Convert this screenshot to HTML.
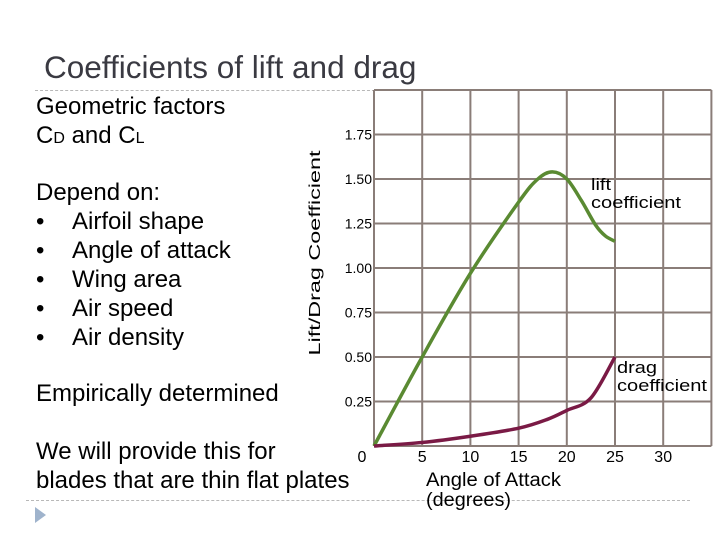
<!DOCTYPE html>
<html><head><meta charset="utf-8"><style>
body{margin:0;width:720px;height:540px;background:#fff;overflow:hidden;font-family:"Liberation Sans",sans-serif;}
.t{position:absolute;color:#000;white-space:nowrap;}
.b{display:inline-block;width:36px;}
</style></head><body>
<div style="position:relative;width:720px;height:540px;">
<div class="t" style="left:44px;top:49px;font-size:31.5px;color:#3a3a42;">Coefficients of lift and drag</div>
<div style="position:absolute;left:35px;top:90px;width:340px;border-top:1px dashed #b8b8b8;"></div>
<div class="t" style="left:36px;top:92px;font-size:24px;line-height:29px;">Geometric factors<br>C<span style="font-size:16px">D</span> and C<span style="font-size:16px">L</span></div>
<div class="t" style="left:36px;top:178px;font-size:24px;line-height:29px;">Depend on:<br><span class="b">•</span>Airfoil shape<br><span class="b">•</span>Angle of attack<br><span class="b">•</span>Wing area<br><span class="b">•</span>Air speed<br><span class="b">•</span>Air density</div>
<div class="t" style="left:36px;top:380px;font-size:24px;">Empirically determined</div>
<div class="t" style="left:36px;top:437px;font-size:24px;line-height:29px;">We will provide this for<br>blades that are thin flat plates</div>
<div style="position:absolute;left:26px;top:500px;width:664px;border-top:1px dashed #b8b8b8;"></div>
<div style="position:absolute;left:35px;top:507px;width:0;height:0;border-top:8px solid transparent;border-bottom:8px solid transparent;border-left:11px solid #9fb3cc;"></div>
<svg id="chart" width="720" height="540" style="position:absolute;left:0;top:0;" xmlns="http://www.w3.org/2000/svg"></svg>
</div>
<script>
const xTicks=[5,10,15,20,25,30];
const yTicks=[0.25,0.5,0.75,1.0,1.25,1.5,1.75];
const yTickLabels=["0.25","0.50","0.75","1.00","1.25","1.50","1.75"];
const liftAngles=[0,5,10,15,17,18.5,20,21.5,23,24,25];
const liftValues=[0,0.5,0.97,1.37,1.5,1.54,1.5,1.38,1.24,1.18,1.15];
const dragAngles=[0,5,10,15,18,20,22.5,25];
const dragValues=[0,0.02,0.055,0.1,0.15,0.2,0.27,0.5];
const NS="http://www.w3.org/2000/svg";
const svg=document.getElementById('chart');
const X0=374,XS=48.2/5,Y0=446,YS=44.5/0.25;
function sx(v){return X0+v*XS;}
function sy(v){return Y0-v*YS;}
function mk(tag,attrs){const e=document.createElementNS(NS,tag);for(const k in attrs)e.setAttribute(k,attrs[k]);svg.appendChild(e);return e;}
for(let a=0;a<=35;a+=5){const l=mk('line',{x1:sx(a),x2:sx(a),y1:sy(2),y2:sy(0),stroke:'#8a7d78','stroke-width':2});

}
for(let v=0;v<=2.0001;v+=0.25){const l=mk('line',{x1:sx(0),x2:sx(35),y1:sy(v),y2:sy(v),stroke:'#8a7d78','stroke-width':2});

}
xTicks.forEach(a=>{const t=mk('text',{x:sx(a),y:462,'font-size':16,'text-anchor':'middle','font-family':'Liberation Sans, sans-serif'});t.textContent=a;

});
const z=mk('text',{x:362,y:462,'font-size':16,'text-anchor':'middle','font-family':'Liberation Sans, sans-serif'});z.textContent='0';


yTicks.forEach((v,i)=>{const t=mk('text',{x:372,y:sy(v)+5,'font-size':14,'text-anchor':'end','font-family':'Liberation Sans, sans-serif'});t.textContent=yTickLabels[i];

});
function path(xs,ys){const p=xs.map((x,i)=>[sx(x),sy(ys[i])]);let d='M'+p[0][0]+','+p[0][1];
for(let i=0;i<p.length-1;i++){const p0=p[i-1]||p[i],p1=p[i],p2=p[i+1],p3=p[i+2]||p2;
d+=` C${p1[0]+(p2[0]-p0[0])/6},${p1[1]+(p2[1]-p0[1])/6} ${p2[0]-(p3[0]-p1[0])/6},${p2[1]-(p3[1]-p1[1])/6} ${p2[0]},${p2[1]}`;}return d;}
const lift=mk('path',{d:path(liftAngles,liftValues),fill:'none',stroke:'#5a8a32','stroke-width':3.5});


const drag=mk('path',{d:path(dragAngles,dragValues),fill:'none',stroke:'#7a1a45','stroke-width':3.5});


function lbl(x,y,lines,name,size,lens){const t=mk('text',{x:x,y:y,'font-size':size,'font-family':'Liberation Sans, sans-serif'});


lines.forEach((s,i)=>{const ts=document.createElementNS(NS,'tspan');ts.setAttribute('x',x);ts.setAttribute('dy',i?size*1.05:0);if(lens){ts.setAttribute('textLength',lens[i]);ts.setAttribute('lengthAdjust','spacingAndGlyphs');}ts.textContent=s;t.appendChild(ts);});}
lbl(591,190,['lift','coefficient'],'lift-label',17,[20,90]);
lbl(617,373,['drag','coefficient'],'drag-label',17,[40,90]);
lbl(426,486,['Angle of Attack','(degrees)'],'x-axis-title',19,[135,85]);
const yt=mk('text',{x:0,y:0,'font-size':16,'text-anchor':'middle','font-family':'Liberation Sans, sans-serif',textLength:205,lengthAdjust:'spacingAndGlyphs',transform:'translate(320,253) rotate(-90)'});yt.textContent='Lift/Drag Coefficient';


</script>
</body></html>
